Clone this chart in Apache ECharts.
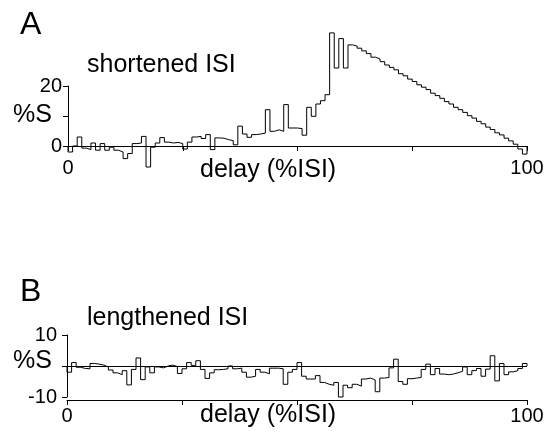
<!DOCTYPE html>
<html>
<head>
<meta charset="utf-8">
<script src="https://cdn.jsdelivr.net/npm/echarts@6/dist/echarts.min.js"></script>
<style>
html, body { margin: 0; padding: 0; background: #fff; }
#chart { width: 555px; height: 437px; }
</style>
</head>
<body>
<div id="chart"></div>
<script>
// %S per delay bin (1 % ISI wide), panel A: shortened ISI
var shortenedValues = [
  -2, 0, 3, -0.7, -1.2, 1, -1.4, 0.8, -1.4, -0.4,
  -1.4, -2, -4.2, -2.5, 0.8, 1, 3.2, -7, -0.4, 1,
  2.8, 1.3, 1, 1.2, 0.8, -1, 1.3, 3, 3.2, 2.5,
  3.8, -1.2, 2.7, 2.6, 2.1, 1.8, 0.4, 6.6, 4, 2.9,
  3.8, 4, 4.3, 12.1, 4.9, 5.4, 4.9, 13.8, 6, 6,
  5.8, 3.6, 12.9, 9.9, 14, 15.1, 17.1, 37.7, 26, 35.8,
  26, 33.7, 33.3, 32.6, 31.7, 30.8, 29.6, 29, 28.1, 27,
  26.2, 25.4, 24.1, 23.4, 22.3, 21.5, 20.4, 19.6, 18.8, 17.6,
  16.8, 15.9, 14.8, 14, 12.9, 12.1, 11.2, 10.1, 9.3, 8.2,
  7.4, 6.3, 5.5, 4.4, 3.7, 2.6, 1.7, 0.6, -1, -2.7
];
// panel B: lengthened ISI
var lengthenedValues = [
  -2, 1.1, -0.4, -0.8, -0.9, 0.8, 0.6, 0.3, -0.3, -1.3,
  -2.2, -2.8, -1.5, -6.1, -1.1, 2.6, -4.4, -0.3, -2.2, -0.3,
  -0.6, 0, 0.3, -0.2, -2.4, -0.9, 1.1, 0.2, 1.7, -1.1,
  -4, -2.2, -1.2, -1.1, -0.9, 0, -0.9, -0.7, -2, -3.6,
  -3.3, -1.1, -2, -2.5, -0.7, -0.7, -0.9, -5.9, -2, -1.1,
  1.1, -3.3, -4.2, -4.2, -3.1, -5.3, -5.9, -6.2, -5.3, -10,
  -6.2, -7, -5.9, -6.5, -4.2, -3.9, -4.5, -8.3, -3.9, -3.7,
  -0.6, 2.2, -5, -5.9, -4.1, -3.9, -3.7, -1.1, 0.6, -2.8,
  -0.8, -2.6, -2.8, -2.6, -2.2, -1.7, -0.3, -2.8, -1.5, -0.8,
  -3.3, -1, 3.3, -4.8, 0.8, -2.8, -1.9, -1.5, -0.8, 0.8
];
var xLabelTicks = [0, 100];
var yLabelTicksA = [0, 20];
var yLabelTicksB = [-10, 10];

function stepData(vals) {
  var d = [[0, 0]];
  for (var i = 0; i < vals.length; i++) d.push([i, vals[i]]);
  d.push([vals.length, vals[vals.length - 1]]);
  d.push([vals.length, 0]);
  return d;
}

var FONT = '"Liberation Sans", Arial, Helvetica, sans-serif';
var black = '#000';

var chart = echarts.init(document.getElementById('chart'), null, { renderer: 'canvas' });

function xAxisCfg(gridIndex, margin, offset) {
  return {
    type: 'value', gridIndex: gridIndex, min: 0, max: 100, interval: 25,
    offset: offset,
    axisLine: { show: true, onZero: offset === 0, lineStyle: { color: black, width: 1 } },
    axisTick: { show: true, length: 5, lineStyle: { color: black, width: 1 } },
    splitLine: { show: false },
    axisLabel: {
      margin: margin, color: black, fontSize: 20, fontFamily: FONT,
      formatter: function (v) { return xLabelTicks.indexOf(v) >= 0 ? String(v) : ''; }
    }
  };
}
function yAxisCfg(gridIndex, min, max, labels, margin) {
  return {
    type: 'value', gridIndex: gridIndex, min: min, max: max, interval: 10,
    axisLine: { show: true, onZero: false, lineStyle: { color: black, width: 1 } },
    axisTick: { show: true, length: 5, lineStyle: { color: black, width: 1 } },
    splitLine: { show: false },
    axisLabel: {
      margin: margin, color: black, fontSize: 20, fontFamily: FONT,
      formatter: function (v) { return labels.indexOf(v) >= 0 ? String(v) : ''; }
    }
  };
}
function txt(text, x, y, size) {
  return {
    type: 'text', silent: true,
    style: { text: text, x: x, y: y, font: size + 'px ' + FONT, fill: black,
             align: 'left', verticalAlign: 'middle' }
  };
}

chart.setOption({
  animation: false,
  backgroundColor: '#fff',
  grid: [
    { left: 68, top: 86, width: 459, height: 60 },
    { left: 67, top: 335, width: 460, height: 62 }
  ],
  xAxis: [xAxisCfg(0, 12, 0), xAxisCfg(1, 6, 3)],
  yAxis: [yAxisCfg(0, 0, 20, yLabelTicksA, 6), yAxisCfg(1, -10, 10, yLabelTicksB, 10)],
  series: [
    {
      type: 'line', xAxisIndex: 0, yAxisIndex: 0, step: 'end', symbol: 'none',
      clip: false, data: stepData(shortenedValues),
      lineStyle: { color: black, width: 1 }
    },
    {
      type: 'line', xAxisIndex: 1, yAxisIndex: 1, step: 'end', symbol: 'none',
      clip: false, data: stepData(lengthenedValues),
      lineStyle: { color: black, width: 1 },
      markLine: {
        silent: true, symbol: ['none', 'none'], label: { show: false },
        lineStyle: { color: black, type: 'solid', width: 1 },
        data: [{ yAxis: 0 }]
      }
    }
  ],
  graphic: [
    txt('A', 20, 25, 32),
    txt('shortened ISI', 87, 65, 25),
    txt('%S', 13, 115, 25),
    txt('delay (%ISI)', 200, 170, 25),
    txt('B', 20, 292, 32),
    txt('lengthened ISI', 87, 318, 25),
    txt('%S', 13, 361, 25),
    txt('delay (%ISI)', 200, 415, 25)
  ]
});
</script>
</body>
</html>
